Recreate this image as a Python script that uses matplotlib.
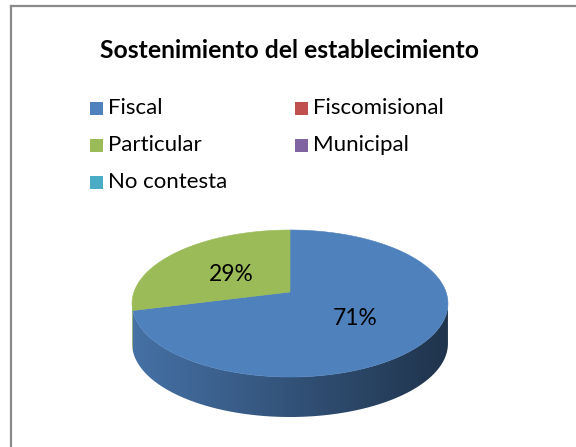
import numpy as np
import matplotlib

matplotlib.use("Agg")
import matplotlib.pyplot as plt
from matplotlib.patches import Polygon, Rectangle
from matplotlib.lines import Line2D

title = "Sostenimiento del establecimiento"
categories = ["Fiscal", "Fiscomisional", "Particular", "Municipal", "No contesta"]
values = [71, 0, 29, 0, 0]
colors = ["#4F81BD", "#C0504D", "#9BBB59", "#8064A2", "#4BACC6"]

plt.rcParams["font.family"] = ["Lato", "DejaVu Sans"]

W, H = 576, 447
fig = plt.figure(figsize=(W / 100, H / 100), dpi=100)
ax = fig.add_axes([0, 0, 1, 1])
ax.set_xlim(0, W)
ax.set_ylim(H, 0)
ax.axis("off")

# chart frame (cropped at right / bottom)
ax.add_line(Line2D([11, W], [6, 6], color="#8a8a8a", lw=1.6))
ax.add_line(Line2D([11, 11], [6, H], color="#8a8a8a", lw=1.6))

ax.text(290, 50, title, ha="center", va="center", fontsize=17.8, fontweight="bold")

# legend, filled row by row in two columns
for i, (cat, col) in enumerate(zip(categories, colors)):
    x0 = 90 + (i % 2) * 205
    y0 = 108 + (i // 2) * 37
    ax.add_patch(Rectangle((x0, y0 - 6.5), 13, 13, facecolor=col, edgecolor="none"))
    ax.text(x0 + 18, y0, cat, ha="left", va="center", fontsize=16)

# 3-D pie in simple perspective
cx, cy, A, B, k, depth = 290, 292, 156, 71.7, 0.1565, 40


def proj(t, r=1.0):
    u = r * np.cos(t)
    v = r * np.sin(t)
    w = 1 + k * v
    return cx + A * u / w, cy - B * v / w


total = float(sum(values))
start = np.pi / 2
bounds = []
for val in values:
    ang = 2 * np.pi * val / total
    bounds.append((start - ang, start))
    start -= ang


def rgb(c):
    c = c.lstrip("#")
    return np.array([int(c[j:j + 2], 16) for j in (0, 2, 4)]) / 255.0


# side wall, front half, shaded left to right
t_left = np.pi + np.arcsin(k)
t_right = 2 * np.pi - np.arcsin(k)
xl, xr = proj(t_left)[0], proj(t_right)[0]
shade = np.linspace(0.88, 0.40, 400)
for (lo, hi), c in zip(bounds, colors):
    if hi - lo <= 0:
        continue
    # wrap slice range into the visible front range
    for off in (-2 * np.pi, 0, 2 * np.pi):
        a, b = max(lo + off, t_left), min(hi + off, t_right)
        if b <= a:
            continue
        t = np.linspace(a, b, 200)
        px, py = proj(t)
        pts = list(zip(px, py)) + list(zip(px[::-1], py[::-1] + depth))
        poly = Polygon(pts, closed=True, facecolor="none", edgecolor="none")
        ax.add_patch(poly)
        img = np.clip(rgb(c)[None, None, :] * shade[None, :, None], 0, 1)
        im = ax.imshow(img, extent=(xl, xr, 420, 220), aspect="auto",
                       interpolation="bilinear", zorder=1)
        im.set_clip_path(poly)

# top face
for (lo, hi), c in zip(bounds, colors):
    if hi - lo <= 0:
        continue
    t = np.linspace(lo, hi, 200)
    px, py = proj(t)
    pts = [(cx, cy)] + list(zip(px, py))
    ax.add_patch(Polygon(pts, closed=True, facecolor=c, edgecolor=c, lw=0.4, zorder=2))

# data labels
for (lo, hi), val in zip(bounds, values):
    if val <= 0:
        continue
    mx, my = proj(0.5 * (lo + hi), 0.5)
    ax.text(mx, my + 3, f"{val / total:.0%}", ha="center", va="center",
            fontsize=16.4, zorder=3)

ax.set_xlim(0, W)
ax.set_ylim(H, 0)
fig.savefig("out.png", dpi=100)
